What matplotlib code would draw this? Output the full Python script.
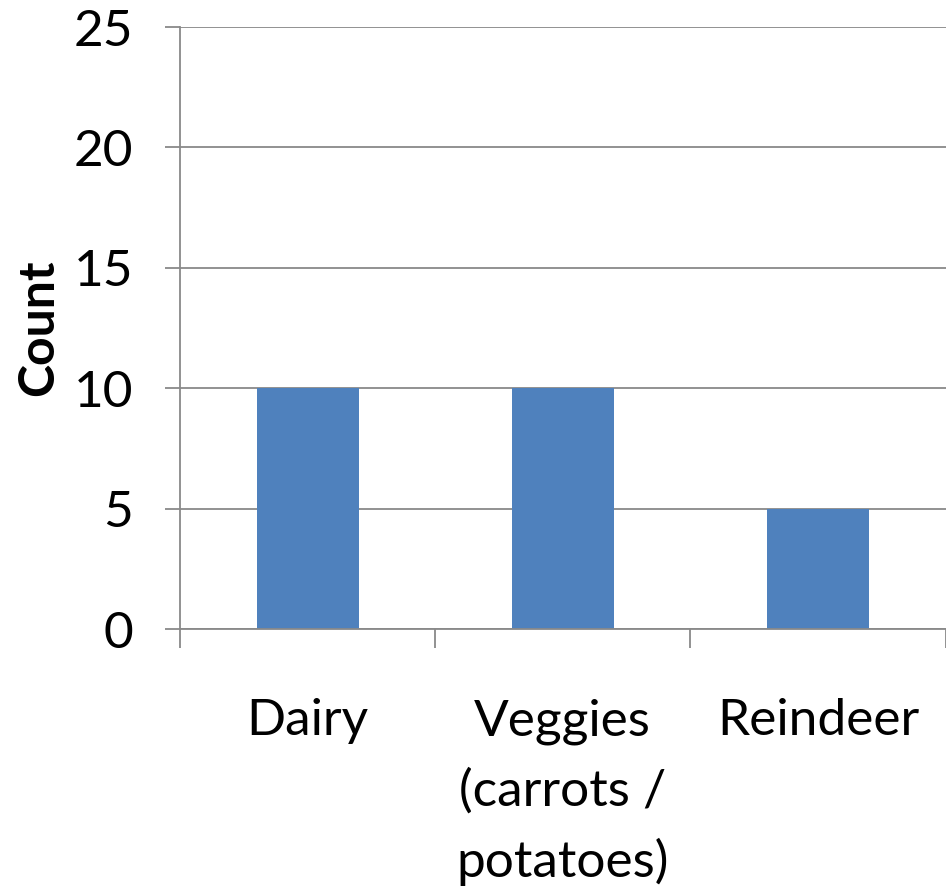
import matplotlib
matplotlib.use("Agg")
import matplotlib.pyplot as plt

# Data
categories = ["Dairy", "Veggies\n(carrots /\npotatoes)", "Reindeer"]
counts = [10, 10, 5]
y_ticks = [0, 5, 10, 15, 20, 25]

plt.rcParams['font.family'] = ['Lato', 'DejaVu Sans']

fig = plt.figure(figsize=(9.46, 8.92), dpi=100)
ax = fig.add_axes([180 / 946, 263 / 892, 765.5 / 946, 602 / 892])

grey = "#898989"
x = list(range(len(categories)))
ax.bar(x, counts, width=0.4, color="#4F81BD", zorder=2)

ax.set_xlim(-0.5, len(categories) - 0.5)
ax.set_ylim(0, 25)
ax.set_yticks(y_ticks)
ax.set_yticklabels([str(v) for v in y_ticks])
ax.yaxis.grid(True, color=grey, linewidth=1.3, zorder=0)

# boundary ticks on x, labels at category centres
ax.set_xticks([i - 0.5 for i in range(len(categories) + 1)])
ax.set_xticklabels([])
ax.set_xticks(x, minor=True)
ax.set_xticklabels(categories, minor=True, fontsize=37, linespacing=1.6, va="top")
ax.tick_params(axis="x", which="major", length=13.7, width=1.3, color=grey, direction="out")
ax.tick_params(axis="x", which="minor", length=0, pad=50)
ax.tick_params(axis="y", length=10.8, width=1.3, color=grey, labelsize=37, pad=23)

for side in ["top", "right"]:
    ax.spines[side].set_visible(False)
for side in ["left", "bottom"]:
    ax.spines[side].set_color(grey)
    ax.spines[side].set_linewidth(1.3)

ax.set_ylabel("Count", fontsize=36, fontweight="bold", labelpad=9)

fig.savefig("out.png", dpi=100)
